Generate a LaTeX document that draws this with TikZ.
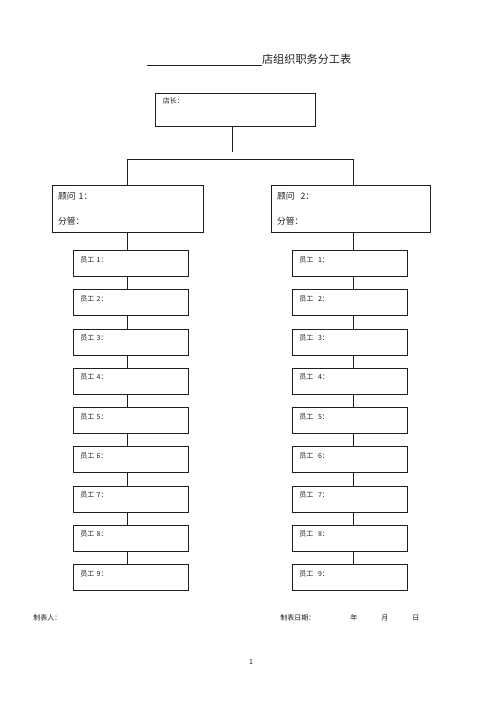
\documentclass[tikz,border=0pt]{standalone}
\usepackage{fontspec}
\newfontfamily\cjk{Noto Sans CJK SC}
\usetikzlibrary{positioning, shadows, calc}
\definecolor{dkGray}{RGB}{30,30,30}

\begin{document}
\begin{tikzpicture}[x=0.03cm, y=-0.03cm, line width=0.5pt, dkGray,
    BOX/.style={draw, fill=white, rectangle, anchor=north west, align=left, inner ysep=0pt,
      drop shadow={shadow xshift=0.45pt, shadow yshift=-0.45pt, opacity=1, fill=dkGray}},
    BOSS/.style={BOX, inner xsep=6.5pt, text width=4.8cm-13pt, minimum height=0.99cm,
      text height=4.5pt, text depth=14.5pt, font=\cjk\fontsize{6pt}{7pt}\selectfont},
    ADV/.style={BOX, inner xsep=5pt, text width=#1-10pt, minimum height=1.41cm,
      font=\cjk\fontsize{7.5pt}{21pt}\selectfont},
    STAFF/.style={BOX, inner xsep=6pt, text width=3.45cm-12pt, minimum height=0.78cm,
      text height=4.5pt, text depth=6.5pt, font=\cjk\fontsize{6pt}{7pt}\selectfont},
    FOOT/.style={anchor=west, inner sep=0pt, font=\cjk\fontsize{6pt}{7pt}\selectfont},
    LINK/.style={draw, line width=0.6pt}]
    \useasboundingbox[fill=white] (0,0) rectangle (500,708);

    % title
    \node[anchor=base west, inner sep=0pt, font=\cjk\fontsize{9.5pt}{11pt}\selectfont] (title) at (147,64)
      {\underline{\hspace{98pt}}店组织职务分工表};

    % manager and advisers
    \node[BOSS] (boss) at (155,93) {店长：};
    \node[ADV=4.53cm] (advL) at (52,185) {顾问 1：\\分管：};
    \node[ADV=4.77cm] (advR) at (271,185) {顾问\ \ 2：\\分管：};
    \coordinate (stem) at (232,152);
    \coordinate (busL) at (127,159);
    \coordinate (busR) at (353,159);
    \draw[LINK] (boss.south -| stem) -- (stem);
    \draw[LINK] (busL |- advL.north) -- (busL) -- (busR) -- (busR |- advR.north);

    % staff
    \foreach \i in {1,...,9} {
      \node[STAFF] (sL\i) at (73, {250+(\i-1)*39.25}) {员工 \i：};
      \node[STAFF] (sR\i) at (292, {250+(\i-1)*39.25}) {员工\ \ \i：};
    }
    \draw[LINK] (busL |- advL.south) -- (busL |- sL1.north);
    \draw[LINK] (busR |- advR.south) -- (busR |- sR1.north);
    \foreach \i [count=\j from 2] in {1,...,8} {
      \draw[LINK] (busL |- sL\i.south) -- (busL |- sL\j.north);
      \draw[LINK] (busR |- sR\i.south) -- (busR |- sR\j.north);
    }

    % footer
    \node[FOOT] (maker) at (33,618) {制表人：};
    \node[FOOT] (date) at (280,618) {制表日期：};
    \node[FOOT] (year) at (350,618) {年};
    \node[FOOT] (month) at (381,618) {月};
    \node[FOOT] (day) at (412,618) {日};
    \node[inner sep=0pt, font=\cjk\fontsize{6pt}{7pt}\selectfont] (page) at (251,662) {1};
\end{tikzpicture}
\end{document}
